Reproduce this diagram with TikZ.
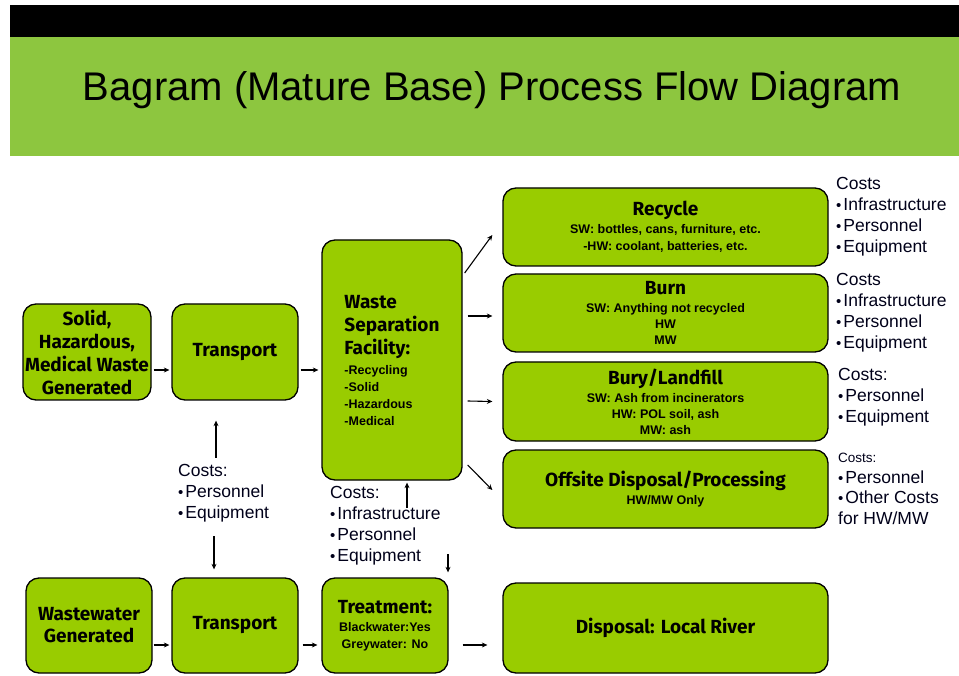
\documentclass[tikz,border=0pt]{standalone}
\usepackage{fontspec}
\setmainfont{Liberation Sans}
\newfontfamily\boxfont{Fira Sans}
\usetikzlibrary{arrows.meta}
\definecolor{hdr}{RGB}{141,198,63}
\definecolor{boxg}{RGB}{153,204,0}
\newcommand\smf{\normalfont\bfseries\fontsize{12.5}{14}\selectfont}
\newcommand\bul{{\fontsize{15}{15}\selectfont •}\hspace{2pt}}
\begin{document}
\begin{tikzpicture}[x=1pt,y=-1pt,
  proc/.style={draw=black, line width=1.3pt, fill=boxg, rounded corners=13pt,
    inner sep=1pt, align=center, font=\boxfont\bfseries\fontsize{19}{23}\selectfont},
  conn/.style={-{Stealth[length=5.5pt,width=5pt]}, line width=1.1pt},
  cost/.style={anchor=north west, align=left, inner sep=0pt, text=black!90!blue,
    font=\fontsize{17.5}{21}\selectfont}]
\path[use as bounding box] (0,0) rectangle (959,676);
\fill[black] (10,5) rectangle (959,37);
\fill[hdr] (10,37) rectangle (959,156);
\node (title) at (492,90) {\fontsize{40}{48}\selectfont Bagram (Mature Base) Process Flow Diagram};

\node[proc, minimum width=128, minimum height=96] (solid) at (87,352)
  {Solid,\\Hazardous,\\Medical Waste\\Generated};
\node[proc, minimum width=126, minimum height=96] (tr1) at (235,352) {Transport};
\node[proc, minimum width=140, minimum height=240, align=left] (wsf) at (392,360)
  {Waste\\Separation\\Facility:\\[-3pt]{\smf -Recycling}\\[-6pt]{\smf -Solid}\\[-6pt]{\smf -Hazardous}\\[-6pt]{\smf -Medical}};
\node[proc, minimum width=325, minimum height=78] (rec) at (665.5,227)
  {Recycle\\[-5pt]{\smf SW: bottles, cans, furniture, etc.}\\[-6pt]{\smf -HW: coolant, batteries, etc.}};
\node[proc, minimum width=325, minimum height=78] (burn) at (665.5,313)
  {Burn\\[-5pt]{\smf SW: Anything not recycled}\\[-7pt]{\smf HW}\\[-7pt]{\smf MW}};
\node[proc, minimum width=325, minimum height=79] (bury) at (665.5,401.5)
  {Bury/Landfill\\[-5pt]{\smf SW: Ash from incinerators}\\[-7pt]{\smf HW: POL soil, ash}\\[-7pt]{\smf MW: ash}};
\node[proc, minimum width=325, minimum height=78] (off) at (665.5,489)
  {Offsite Disposal/Processing\\[-5pt]{\smf HW/MW Only}};
\node[proc, minimum width=126, minimum height=95] (ww) at (89,625.5) {Wastewater\\[-1pt]Generated};
\node[proc, minimum width=126, minimum height=95] (tr2) at (235,625.5) {Transport};
\node[proc, minimum width=126, minimum height=95] (treat) at (385,625.5)
  {Treatment:\\[-5pt]{\smf Blackwater:Yes}\\[-6pt]{\smf Greywater: No}};
\node[proc, minimum width=325, minimum height=90] (disp) at (665.5,628) {Disposal: Local River};

\draw[conn] ([shift={(2,18)}]solid.east) -- ([shift={(-2,18)}]tr1.west);
\draw[conn] ([shift={(2,18)}]tr1.east) -- ([shift={(-3,10)}]wsf.west);
\draw[conn] ([shift={(2,-87)}]wsf.east) -- ([shift={(-10,8)}]rec.west);
\draw[conn] ([shift={(5,-44)}]wsf.east) -- ([shift={(-10,3)}]burn.west);
\draw[conn] ([shift={(5,41)}]wsf.east) -- ([shift={(-10,0)}]bury.west);
\draw[conn] ([shift={(5,105)}]wsf.east) -- ([shift={(-10,1)}]off.west);
\draw[conn] ([shift={(1,19.5)}]ww.east) -- ([shift={(-2,19.5)}]tr2.west);
\draw[conn] ([shift={(4,19.5)}]tr2.east) -- ([shift={(-4,19.5)}]treat.west);
\draw[conn] ([shift={(14,19.5)}]treat.east) -- ([shift={(-15,17)}]disp.west);
\draw[conn] ([shift={(-19,57)}]tr1.south) -- ([shift={(-19,20)}]tr1.south);
\draw[conn] ([shift={(-21,-41)}]tr2.north) -- ([shift={(-21,-8)}]tr2.north);
\draw[conn] ([shift={(15,27)}]wsf.south) -- ([shift={(15,2)}]wsf.south);
\draw[conn] ([shift={(63,-23)}]treat.north) -- ([shift={(63,-5)}]treat.north);

\node[cost] (c1) at (836,177) {Costs\\\bul Infrastructure\\\bul Personnel\\\bul Equipment};
\node[cost] (c2) at (836,273) {Costs\\\bul Infrastructure\\\bul Personnel\\\bul Equipment};
\node[cost] (c3) at (838,368) {Costs:\\\bul Personnel\\\bul Equipment};
\node[cost, font=\fontsize{17.5}{20.5}\selectfont] (c4) at (838,453) {{\fontsize{13.5}{16}\selectfont Costs:}\\\bul Personnel\\\bul Other Costs\\for HW/MW};
\node[cost] (c5) at (178,464) {Costs:\\\bul Personnel\\\bul Equipment};
\node[cost] (c6) at (330,486) {Costs:\\\bul Infrastructure\\\bul Personnel\\\bul Equipment};
\end{tikzpicture}
\end{document}
